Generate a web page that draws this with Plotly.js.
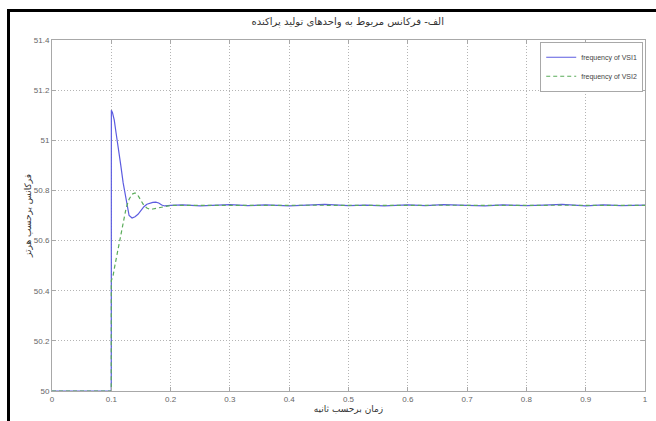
<!DOCTYPE html>
<html><head><meta charset="utf-8">
<script src="https://cdn.plot.ly/plotly-3.0.1.min.js"></script>
<style>
html,body{margin:0;padding:0;background:#fff;}
#wrap{position:relative;width:656px;height:421px;overflow:hidden;}
#chart{width:656px;height:421px;}
#frame{position:absolute;left:7px;top:9px;width:700px;height:500px;border-top:3px solid #000;border-left:3px solid #000;pointer-events:none;}
</style></head>
<body><div id="wrap"><div id="chart"></div><div id="frame"></div></div>
<script>
const chartTitle = "الف- فرکانس مربوط به واحدهای تولید پراکنده";
const xTitle = "زمان برحسب ثانیه";
const yTitle = "فرکانس برحسب هرتز";
const seriesNames = ["frequency of VSI1", "frequency of VSI2"];

const t1 = [0, 0.0999, 0.1, 0.1001, 0.102, 0.105, 0.108, 0.112, 0.116, 0.12, 0.125, 0.13, 0.135, 0.14, 0.145, 0.15, 0.155, 0.16, 0.165, 0.17, 0.175, 0.18, 0.185, 0.19, 0.2,
  0.22, 0.25, 0.28, 0.3, 0.33, 0.36, 0.4, 0.43, 0.46, 0.5, 0.53, 0.56, 0.6, 0.63, 0.66, 0.7, 0.73, 0.76, 0.8, 0.83, 0.86, 0.9, 0.93, 0.96, 1.0];
const f1 = [50, 50, 50.28, 51.12, 51.11, 51.08, 51.03, 50.97, 50.9, 50.83, 50.76, 50.70, 50.69, 50.695, 50.705, 50.72, 50.735, 50.745, 50.75, 50.752, 50.753, 50.75, 50.742, 50.738, 50.74,
  50.742, 50.738, 50.741, 50.743, 50.739, 50.742, 50.738, 50.741, 50.744, 50.739, 50.741, 50.738, 50.742, 50.739, 50.743, 50.74, 50.738, 50.742, 50.739, 50.741, 50.744, 50.738, 50.742, 50.739, 50.741];

const t2 = [0, 0.0999, 0.1, 0.103, 0.106, 0.11, 0.115, 0.12, 0.125, 0.13, 0.135, 0.14, 0.145, 0.15, 0.155, 0.16, 0.165, 0.17, 0.18, 0.19, 0.2,
  0.25, 0.3, 0.35, 0.4, 0.45, 0.5, 0.55, 0.6, 0.65, 0.7, 0.75, 0.8, 0.85, 0.9, 0.95, 1.0];
const f2 = [50, 50, 50.44, 50.46, 50.5, 50.55, 50.62, 50.68, 50.73, 50.765, 50.785, 50.79, 50.78, 50.76, 50.74, 50.73, 50.725, 50.726, 50.73, 50.735, 50.74,
  50.74, 50.741, 50.739, 50.74, 50.741, 50.74, 50.739, 50.74, 50.741, 50.74, 50.739, 50.74, 50.741, 50.74, 50.739, 50.74];

const xTicks = [0, 0.1, 0.2, 0.3, 0.4, 0.5, 0.6, 0.7, 0.8, 0.9, 1];
const xTickText = ["0", "0.1", "0.2", "0.3", "0.4", "0.5", "0.6", "0.7", "0.8", "0.9", "1"];
const yTicks = [50, 50.2, 50.4, 50.6, 50.8, 51, 51.2, 51.4];
const yTickText = ["50", "50.2", "50.4", "50.6", "50.8", "51", "51.2", "51.4"];

const axisCommon = {
  showline: true, linecolor: '#a8a8a8', linewidth: 1, mirror: 'ticks',
  ticks: 'inside', ticklen: 4, tickcolor: '#a8a8a8',
  showgrid: true, gridcolor: '#b4b4b4', griddash: '1px,2px', gridwidth: 1,
  zeroline: false, tickfont: {family: 'Liberation Sans, Arial', size: 8, color: '#666'}
};

const data = [
  {x: t1, y: f1, type: 'scatter', mode: 'lines', name: seriesNames[0],
   line: {color: '#5c5ce0', width: 1.2}},
  {x: t2, y: f2, type: 'scatter', mode: 'lines', name: seriesNames[1],
   line: {color: '#5aac5a', width: 1.2, dash: '4px,3px'}}
];

const layout = {
  width: 656, height: 421,
  margin: {l: 52, r: 11, t: 40, b: 30},
  paper_bgcolor: '#fff', plot_bgcolor: '#fff',
  title: {text: chartTitle, x: 0.53, xanchor: 'center', y: 0.948, yanchor: 'middle',
          font: {family: 'DejaVu Sans', size: 10, color: '#333'}},
  xaxis: Object.assign({}, axisCommon, {range: [0, 1], tickvals: xTicks, ticktext: xTickText,
    title: {text: xTitle, standoff: 2, font: {family: 'DejaVu Sans', size: 9, color: '#333'}}}),
  yaxis: Object.assign({}, axisCommon, {range: [50, 51.4], tickvals: yTicks, ticktext: yTickText,
    title: {text: yTitle, standoff: 0, font: {family: 'DejaVu Sans', size: 9, color: '#333'}}}),
  showlegend: true,
  legend: {x: 0.997, xanchor: 'right', y: 0.995, yanchor: 'top', bgcolor: '#fff',
           bordercolor: '#a8a8a8', borderwidth: 1, itemwidth: 30, tracegroupgap: 0,
           font: {family: 'Liberation Sans, Arial', size: 7, color: '#444'}}
};

Plotly.newPlot('chart', data, layout, {displayModeBar: false, staticPlot: true});
</script>
</body></html>
